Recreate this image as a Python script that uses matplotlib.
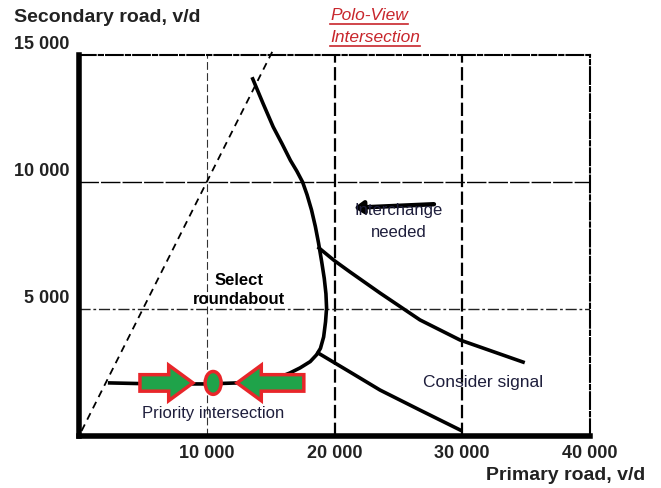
import matplotlib
matplotlib.use("Agg")
import matplotlib.pyplot as plt
from matplotlib.lines import Line2D
from matplotlib.patches import FancyArrow, Ellipse, FancyArrowPatch

# ----------------------------------------------------------
# Data (vehicles per day)
# ----------------------------------------------------------

x_ticks = [10000, 20000, 30000, 40000]
x_tick_labels = ["10 000", "20 000", "30 000", "40 000"]
y_ticks = [5000, 10000, 15000]
y_tick_labels = ["5 000", "10 000", "15 000"]

# roundabout boundary (priority line + the tall curve)
main_x = [2400, 6000, 10000, 13000, 14500, 15600, 16500, 17300, 18100,
          18600, 18900, 19150, 19300, 19380, 19330, 19200, 19000, 18750,
          18500, 18200, 17850, 17500, 17050, 16550, 15900, 15200, 14400,
          13600]
main_y = [2090, 2050, 2050, 2100, 2180, 2300, 2480, 2680, 2930,
          3200, 3450, 3900, 4500, 5040, 5600, 6200, 6850, 7600,
          8250, 8900, 9500, 10000, 10430, 10850, 11500, 12170, 13100,
          14060]

# interchange boundary
upper_x = [18790, 20000, 21210, 23560, 26690, 29820, 34760]
upper_y = [7400, 6900, 6460, 5630, 4570, 3780, 2910]

# signal boundary
lower_x = [18710, 21210, 23560, 26690, 29820]
lower_y = [3270, 2520, 1810, 1020, 240]

# equal flow line
diag_x = [200, 15200]
diag_y = [200, 15200]

# Polo-View markers
arrow_right = (4770, 2090, 4150)    # x, y, length
arrow_left = (17600, 2090, -5230)
polo_point = (10500, 2090)

interchange_arrow = [(28000, 9130), (21300, 8980)]

# ----------------------------------------------------------
# Figure
# ----------------------------------------------------------

fig = plt.figure(figsize=(6.61, 4.88), dpi=100)
ax = fig.add_axes([79 / 661, 52 / 488, 511 / 661, 381 / 488])
ax.set_xlim(0, 40000)
ax.set_ylim(0, 15000)
ax.set_xticks([])
ax.set_yticks([])

bold_font = ["Liberation Sans", "DejaVu Sans"]
sans = ["Liberation Sans", "DejaVu Sans"]

for side in ["left", "bottom"]:
    ax.spines[side].set_linewidth(4)
for side in ["top", "right"]:
    ax.spines[side].set_linewidth(1.5)
    ax.spines[side].set_linestyle((0, (8, 1.5, 2, 1.5)))

# grid
ax.axvline(10000, color="#333333", lw=0.8, ls=(0, (7, 3)))
ax.axvline(20000, color="black", lw=1.6, ls=(0, (6, 2)))
ax.axvline(30000, color="black", lw=1.6, ls=(0, (6, 2)))
ax.axhline(10000, color="black", lw=1.0, ls=(0, (14, 1.5)))
ax.axhline(5000, color="#222222", lw=1.0, ls=(0, (8, 2, 2, 2)))

# curves
ax.plot(diag_x, diag_y, color="black", lw=1.3, ls=(0, (4, 3)), clip_on=False)
ax.plot(main_x, main_y, color="black", lw=2.6, solid_joinstyle="round")
ax.plot(upper_x, upper_y, color="black", lw=2.6, solid_joinstyle="round")
ax.plot(lower_x, lower_y, color="black", lw=2.6, solid_joinstyle="round")

# green arrows
for x0, y0, length in [arrow_right, arrow_left]:
    ax.add_patch(FancyArrow(x0, y0, length, 0, width=650, head_width=1400,
                            head_length=1900, length_includes_head=True,
                            facecolor="#1fa34a", edgecolor="#e8262a",
                            lw=2.5, zorder=5))
ax.add_patch(Ellipse(polo_point, 1250, 900, facecolor="#1fa34a",
                     edgecolor="#e8262a", lw=2.5, zorder=6))

ax.add_patch(FancyArrowPatch(interchange_arrow[0], interchange_arrow[1],
                             arrowstyle="-|>,head_length=0.6,head_width=0.4",
                             mutation_scale=9, color="black", lw=3.2,
                             zorder=4))

# tick labels
for value, label in zip(x_ticks, x_tick_labels):
    ax.text(value, -700, label, ha="center", va="center", fontsize=13,
            fontweight="bold", family=bold_font, color="#222222",
            clip_on=False)
for value, label in zip(y_ticks, y_tick_labels):
    ax.text(-720, value + 430, label, ha="right", va="center", fontsize=13,
            fontweight="bold", family=bold_font, color="#222222",
            clip_on=False)

fig.text(14 / 661, 1 - 18 / 488, "Secondary road, v/d", ha="left",
         va="center", fontsize=14, fontweight="bold", family=bold_font,
         color="#222222")
fig.text(645 / 661, 1 - 475 / 488, "Primary road, v/d", ha="right",
         va="center", fontsize=14, fontweight="bold", family=bold_font,
         color="#222222")

# region labels
ax.text(12500, 5750, "Select\nroundabout", ha="center", va="center",
        fontsize=12, fontweight="bold", family=sans, linespacing=1.4)
ax.text(25000, 8440, "Interchange\nneeded", ha="center", va="center",
        fontsize=12, family=sans, color="#1e1e3c", linespacing=1.6,
        zorder=5)
ax.text(31600, 2090, "Consider signal", ha="center", va="center",
        fontsize=12.5, family=sans, color="#1e1e3c")
ax.text(10500, 900, "Priority intersection", ha="center", va="center",
        fontsize=12, family=sans, color="#1e1e3c")

# Polo-View title, underlined
red = "#c8262c"
titles = []
for ypix, line in [(16, "Polo-View"), (38, "Intersection")]:
    titles.append(fig.text(330 / 661, 1 - ypix / 488, line, ha="left",
                           va="center", fontsize=12.5, style="italic",
                           family=sans, color=red))

fig.canvas.draw()
for t in titles:
    bb = t.get_window_extent()
    y_line = (bb.y0 - 0.5) / 488
    fig.add_artist(Line2D([bb.x0 / 661, bb.x1 / 661], [y_line, y_line],
                          color=red, lw=1.2))

fig.savefig("out.png", dpi=100)
